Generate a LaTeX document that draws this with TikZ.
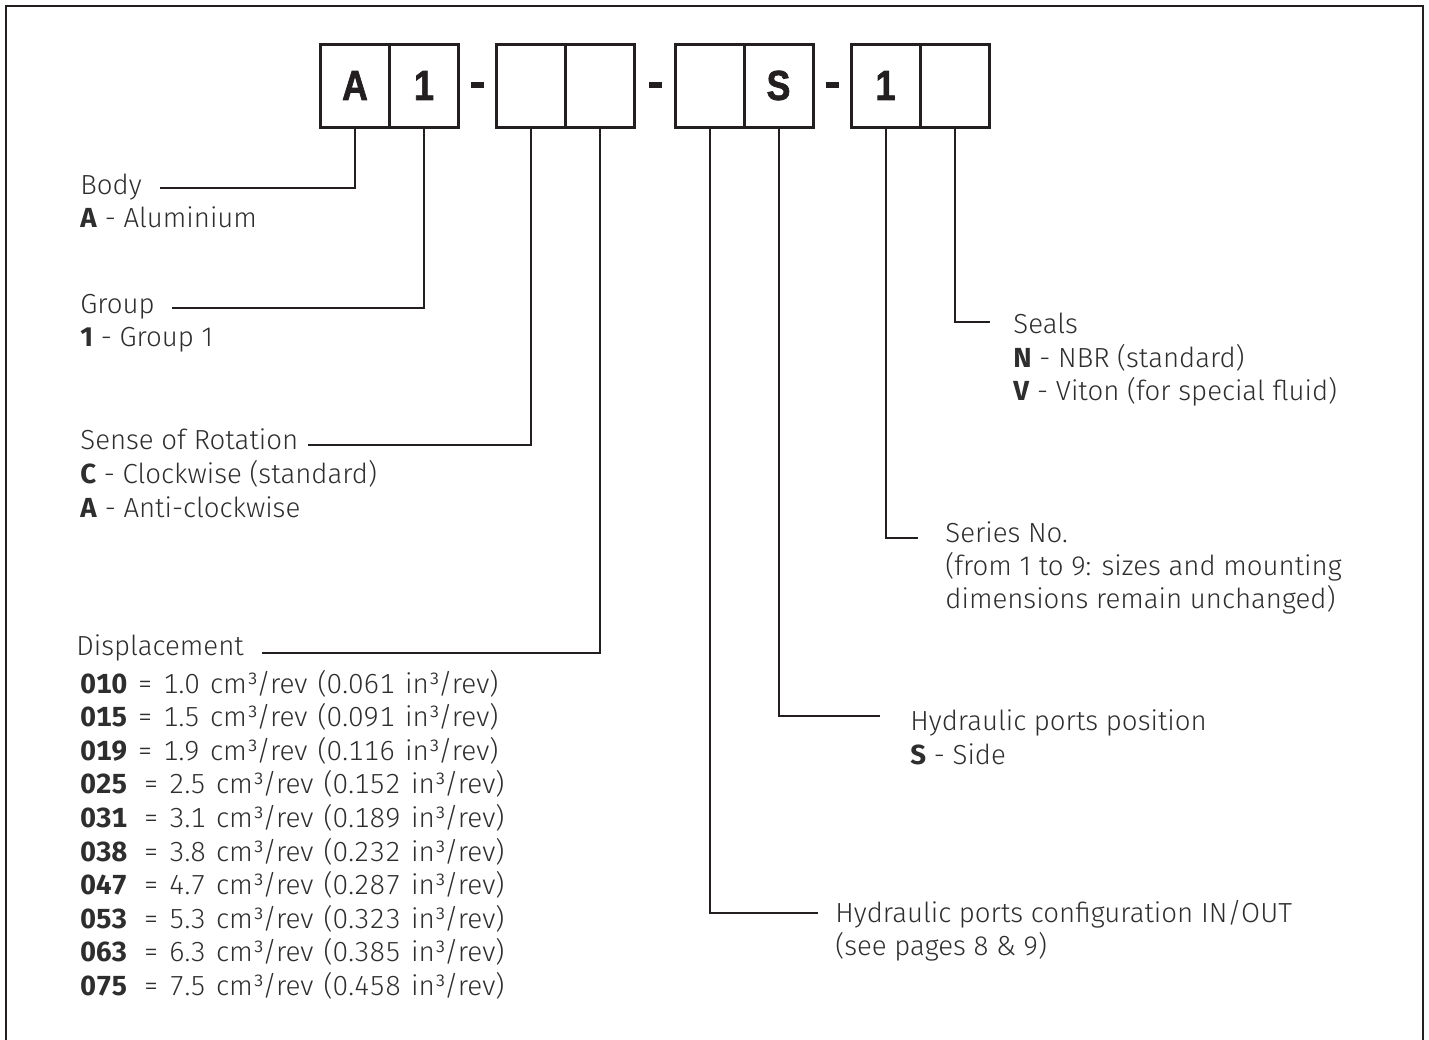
\documentclass[tikz,border=0pt]{standalone}
\usepackage{fontspec}
\setmainfont{Fira Sans}[UprightFont=* Light, BoldFont=* Bold]
\newfontfamily\listfont{Fira Sans}[UprightFont=* Light, BoldFont=* Bold, Numbers=Monospaced, WordSpace=1.3, FakeStretch=1.01]
\newfontfamily\boxfont{Liberation Sans}[UprightFont=* Bold, FakeStretch=0.85, FakeBold=1.6]
\definecolor{ink}{HTML}{231F20}
\definecolor{txt}{HTML}{2E2E2E}
\begin{document}
\begin{tikzpicture}[x=0.5pt,y=-0.5pt,
  cell/.style={draw=ink, line width=1.5pt, minimum width=34.5pt, minimum height=41.5pt,
    inner sep=0pt, text=ink, font=\boxfont\fontsize{21}{21}\selectfont},
  dashbar/.style={fill=ink, minimum width=6.5pt, minimum height=3pt, inner sep=0pt},
  lead/.style={draw=ink, line width=1pt},
  lbl/.style={anchor=base west, inner sep=0pt, text=txt, font=\fontsize{13.8}{16}\selectfont},
  lst/.style={lbl, font=\listfont\fontsize{13.8}{16}\selectfont}]
\useasboundingbox (0,0) rectangle (1429,1039);
% frame
\draw[ink, line width=1.25pt] (6,1045) -- (6,6) -- (1423,6) -- (1423,1045);
% code boxes
\node[cell] (c1) at (355,85.5) {A};
\node[cell] (c2) at (424,85.5) {1};
\node[cell] (c3) at (530.5,85.5) {};
\node[cell] (c4) at (599.5,85.5) {};
\node[cell] (c5) at (709.5,85.5) {};
\node[cell] (c6) at (778.5,85.5) {S};
\node[cell] (c7) at (885.5,85.5) {1};
\node[cell] (c8) at (954.5,85.5) {};
\node[dashbar] (d1) at (477,85) {};
\node[dashbar] (d2) at (655,85) {};
\node[dashbar] (d3) at (832,85) {};
% leader ends
\coordinate (eBody) at (160,188);
\coordinate (eGroup) at (172,308);
\coordinate (eSense) at (308,445);
\coordinate (eDisp) at (262,653);
\coordinate (eConf) at (818,913);
\coordinate (ePos) at (880,716);
\coordinate (eSer) at (918,538);
\coordinate (eSeal) at (990,322);
\draw[lead] (c1.south) |- (eBody);
\draw[lead] (c2.south) |- (eGroup);
\draw[lead] (c3.south) |- (eSense);
\draw[lead] (c4.south) |- (eDisp);
\draw[lead] (c5.south) |- (eConf);
\draw[lead] (c6.south) |- (ePos);
\draw[lead] (c7.south) |- (eSer);
\draw[lead] (c8.south) |- (eSeal);
% left labels
\node[lbl] (body) at (80,194) {Body};
\node[lbl] (body1) at (80,227) {\textbf{A} - Aluminium};
\node[lbl] (group) at (80,313) {Group};
\node[lbl] (group1) at (80,346) {\textbf{1} - Group 1};
\node[lbl] (sense) at (80,449) {Sense of Rotation};
\node[lbl] (sense1) at (80,483) {\textbf{C} - Clockwise (standard)};
\node[lbl] (sense2) at (80,517) {\textbf{A} - Anti-clockwise};
\node[lbl] (disp) at (76,655) {Displacement};
\node[lst] (dp1) at (80,693) {\textbf{010} = 1.0 cm³/rev (0.061 in³/rev)};
\node[lst] (dp2) at (80,726.6) {\textbf{015} = 1.5 cm³/rev (0.091 in³/rev)};
\node[lst] (dp3) at (80,760.2) {\textbf{019} = 1.9 cm³/rev (0.116 in³/rev)};
\node[lst] (dp4) at (80,793.8) {\textbf{025}\hspace{3pt} = 2.5 cm³/rev (0.152 in³/rev)};
\node[lst] (dp5) at (80,827.4) {\textbf{031}\hspace{3pt} = 3.1 cm³/rev (0.189 in³/rev)};
\node[lst] (dp6) at (80,861) {\textbf{038}\hspace{3pt} = 3.8 cm³/rev (0.232 in³/rev)};
\node[lst] (dp7) at (80,894.6) {\textbf{047}\hspace{3pt} = 4.7 cm³/rev (0.287 in³/rev)};
\node[lst] (dp8) at (80,928.2) {\textbf{053}\hspace{3pt} = 5.3 cm³/rev (0.323 in³/rev)};
\node[lst] (dp9) at (80,961.8) {\textbf{063}\hspace{3pt} = 6.3 cm³/rev (0.385 in³/rev)};
\node[lst] (dp10) at (80,995.4) {\textbf{075}\hspace{3pt} = 7.5 cm³/rev (0.458 in³/rev)};
% right labels
\node[lbl] (seal) at (1013,333) {Seals};
\node[lbl] (seal1) at (1013,367) {\textbf{N} - NBR (standard)};
\node[lbl] (seal2) at (1013,400) {\textbf{V} - Viton (for special fluid)};
\node[lbl] (ser) at (945,542) {Series No.};
\node[lbl] (ser1) at (945,575) {(from 1 to 9: sizes and mounting};
\node[lbl] (ser2) at (945,608) {dimensions remain unchanged)};
\node[lbl] (pos) at (910,730) {Hydraulic ports position};
\node[lbl] (pos1) at (910,764) {\textbf{S} - Side};
\node[lbl] (conf) at (835,922) {Hydraulic ports configuration IN/OUT};
\node[lbl] (conf1) at (835,955) {(see pages 8 \& 9)};
\end{tikzpicture}
\end{document}
